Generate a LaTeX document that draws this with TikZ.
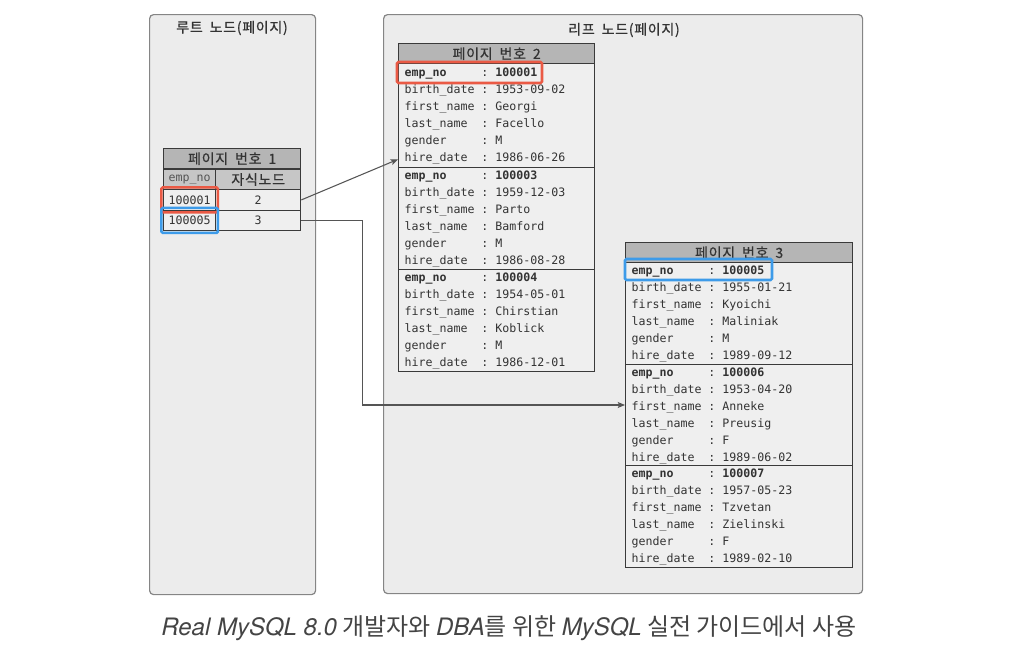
\documentclass[tikz,border=0pt]{standalone}
\usepackage{fontspec}
\usetikzlibrary{arrows.meta,positioning,fit}

\newfontfamily\dbmono{DejaVu Sans Mono}
\newfontfamily\krfont[LetterSpace=5,WordSpace=1.8,FakeBold=0.6]{Noto Sans CJK KR}
\newfontfamily\capkr{Noto Sans CJK KR}
\newfontfamily\caplat{TeX Gyre Heros}

\definecolor{pagebg}{HTML}{ECECEC}
\definecolor{pageedge}{HTML}{858585}
\definecolor{tblline}{HTML}{3A3A3A}
\definecolor{hdrgray}{HTML}{B5B5B5}
\definecolor{subgray}{HTML}{C6C6C6}
\definecolor{recfill}{HTML}{EFEFEF}
\definecolor{txtdark}{HTML}{333333}
\definecolor{arrgray}{HTML}{555555}
\definecolor{hlred}{HTML}{EA5A45}
\definecolor{hlblue}{HTML}{3D9BE9}
\definecolor{capgray}{HTML}{444444}

\newcommand\rowfont{\dbmono\fontsize{8.7}{12.75}\selectfont}
\newcommand\krhead{\krfont\fontsize{10.5}{12}\selectfont}
\newcommand\emprec[6]{\begin{tabular}{@{}l@{\hphantom{0}:\hphantom{0}}l@{}}
\bfseries emp\_no & \bfseries #1\\
birth\_date & #2\\
first\_name & #3\\
last\_name & #4\\
gender & #5\\
hire\_date & #6
\end{tabular}}

\begin{document}
\begin{tikzpicture}[x=0.75pt,y=-0.75pt,
  outerpg/.style={draw=pageedge, line width=0.9pt, fill=pagebg, rounded corners=3pt, anchor=north west, inner sep=0pt},
  pagetitle/.style={font=\krhead, text=txtdark},
  hdr/.style={draw=tblline, line width=1pt, fill=hdrgray, anchor=north west, inner sep=0pt, minimum height=15pt, font=\krhead, text=txtdark},
  rec/.style={draw=tblline, line width=1pt, fill=recfill, anchor=north west, inner xsep=4.5pt, inner ysep=0pt, align=left, font=\rowfont, text=txtdark},
  cell/.style={draw=tblline, line width=1pt, fill=recfill, anchor=north west, inner sep=0pt, minimum height=15.375pt, font=\rowfont, text=txtdark},
  hlbox/.style={draw=#1, line width=1.9pt, rounded corners=1pt, inner sep=1.2pt},
  arr/.style={draw=arrgray, line width=0.8pt, -{Stealth[length=5.5pt,width=4.5pt,inset=1.2pt]}},
]
\useasboundingbox (0,0) rectangle (1014,646);

% root node page
\node[outerpg, minimum width=124.5pt, minimum height=435pt] (rootpg) at (149,14) {};
\node[pagetitle] (roottitle) at (232,28) {루트 노드(페이지)};
\node[hdr, minimum width=102.75pt] (hdr1) at (163,148) {페이지 번호 1};
\node[cell, fill=subgray, minimum width=39pt, text=arrgray] (keyhd) at (163,168.5) {emp\_no};
\node[cell, fill=subgray, minimum width=63.75pt, font=\krhead] (childhd) at (215,168.5) {자식노드};
\node[cell, minimum width=39pt] (k1) at (163,189) {100001};
\node[cell, minimum width=63.75pt] (c1) at (215,189) {2};
\node[cell, minimum width=39pt] (k2) at (163,209.5) {100005};
\node[cell, minimum width=63.75pt] (c2) at (215,209.5) {3};
\node[hlbox=hlred, fit=(k1)] (k1box) {};
\node[hlbox=hlblue, fit=(k2)] (k2box) {};

% leaf node pages
\node[outerpg, minimum width=359.25pt, minimum height=434.25pt] (leafpg) at (383,14) {};
\node[pagetitle] (leaftitle) at (624,30) {리프 노드(페이지)};

\node[hdr, minimum width=147pt] (hdr2) at (398,43) {페이지 번호 2};
\node[rec, text width=138pt, minimum height=78pt] (rec21) at (398,63) {\emprec{100001}{1953-09-02}{Georgi}{Facello}{M}{1986-06-26}};
\node[rec, text width=138pt] (rec22) at (398,167) {\emprec{100003}{1959-12-03}{Parto}{Bamford}{M}{1986-08-28}};
\node[rec, text width=138pt] (rec23) at (398,269) {\emprec{100004}{1954-05-01}{Chirstian}{Koblick}{M}{1986-12-01}};
\draw[hlbox=hlred] ([shift={(-1,-1)}]rec21.north west) rectangle ++(145,21);

\node[hdr, minimum width=170.25pt] (hdr3) at (625,242) {페이지 번호 3};
\node[rec, text width=161.25pt] (rec31) at (625,262) {\emprec{100005}{1955-01-21}{Kyoichi}{Maliniak}{M}{1989-09-12}};
\node[rec, text width=161.25pt] (rec32) at (625,364) {\emprec{100006}{1953-04-20}{Anneke}{Preusig}{F}{1989-06-02}};
\node[rec, text width=161.25pt] (rec33) at (625,465) {\emprec{100007}{1957-05-23}{Tzvetan}{Zielinski}{F}{1989-02-10}};
\draw[hlbox=hlblue] ([shift={(0,-3)}]rec31.north west) rectangle ++(147,21);

% child pointers
\draw[arr] (c1.east) -- ([yshift=6.75pt]rec21.south west);
\draw[arr] (c2.east) -- ++(61,0) |- ([yshift=-30.75pt]rec32.north west);

\node[text=capgray, font=\capkr\fontsize{18}{21}\selectfont] (caption) at (509,628)
  {{\caplat\itshape Real MySQL 8.0} 개발자와 {\caplat\itshape DBA}를 위한 {\caplat\itshape MySQL} 실전 가이드에서 사용};
\end{tikzpicture}
\end{document}
